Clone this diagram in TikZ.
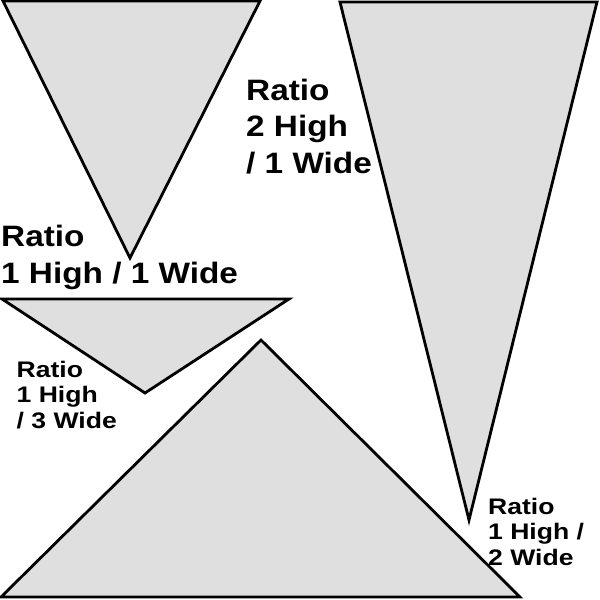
\documentclass[tikz,border=0pt]{standalone}
\usepackage{fontspec}
\setmainfont{Liberation Sans}
\newfontfamily\ratiofont{Liberation Sans}[FakeStretch=1.13]
\newfontfamily\ratiosmall{Liberation Sans}[FakeStretch=1.18]
\usetikzlibrary{positioning}
\definecolor{panel}{HTML}{DFDFDF}

\tikzset{
  wedge/.style={fill=panel, draw=black, line width=2.8pt, line join=miter},
  biglabel/.style={font=\ratiofont\bfseries\fontsize{29.5}{36.5}\selectfont, align=left, anchor=base west, inner sep=0pt},
  smalllabel/.style={font=\ratiosmall\bfseries\fontsize{22.5}{25.5}\selectfont, align=left, anchor=base west, inner sep=0pt}
}

\begin{document}
\begin{tikzpicture}[x=1pt,y=-1pt]
  \useasboundingbox (0,0) rectangle (600,600);

  % triangles
  \filldraw[wedge] (3,1) -- (260,1) -- (130,258) -- cycle;
  \filldraw[wedge] (340,2) -- (597,2) -- (469,520) -- cycle;
  \filldraw[wedge] (2,299) -- (289,299) -- (145,393) -- cycle;
  \filldraw[wedge] (261,340) -- (520,597) -- (1,597) -- cycle;

  % labels (base = last line)
  \node[biglabel] (r_11) at (1,283) {Ratio\\1 High / 1 Wide};
  \node[biglabel] (r_21) at (246,173) {Ratio\\2 High\\/ 1 Wide};
  \node[smalllabel] (r_13) at (16.5,428) {Ratio\\1 High\\/ 3 Wide};
  \node[smalllabel] (r_12) at (488,565) {Ratio\\1 High /\\2 Wide};
\end{tikzpicture}
\end{document}
